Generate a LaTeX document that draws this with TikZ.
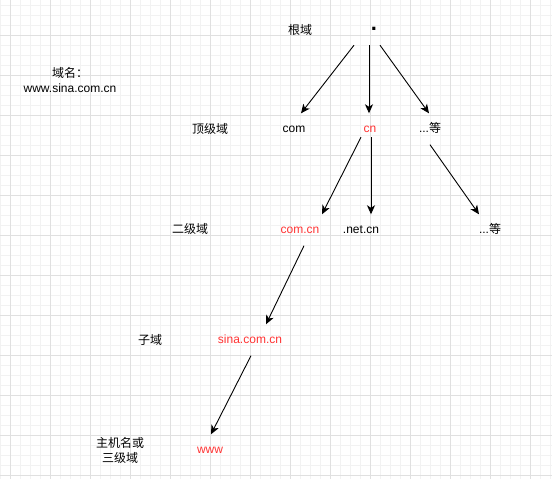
\documentclass[tikz,border=0pt]{standalone}
\usepackage{fontspec}
\setmainfont{Liberation Sans}
\newfontfamily\cjk{Noto Sans CJK SC}
\newcommand{\zh}[1]{{\cjk #1}}
\usetikzlibrary{arrows.meta}

\definecolor{gridmajor}{HTML}{E0E0E0}
\definecolor{gridminor}{HTML}{F2F2F2}
\definecolor{domred}{HTML}{FF3333}

\tikzset{
    lbl/.style = {font=\fontsize{12}{15}\selectfont, align=center, inner sep=0pt},
    dom/.style = {lbl, text height=8.6pt, text depth=2.5pt, minimum height=31pt},
    hot/.style = {dom, text=domred},
    arr/.style = {-{Stealth[length=9pt,width=8pt,inset=2.5pt]}, line width=0.9pt},
}

\begin{document}
\begin{tikzpicture}[x=1pt, y=-1pt]
            % draw background grid
                \useasboundingbox (0,0) rectangle (552,479);
                \foreach \x in {0,10,...,550} \draw[gridminor, line width=0.8pt] (\x,0) -- (\x,479);
                \foreach \y in {5,15,...,475} \draw[gridminor, line width=0.8pt] (0,\y) -- (552,\y);
                \foreach \x in {10,50,...,530} \draw[gridmajor, line width=0.8pt] (\x,0) -- (\x,479);
                \foreach \y in {35,75,...,475} \draw[gridmajor, line width=0.8pt] (0,\y) -- (552,\y);

            % draw level names
                \node[lbl] (name) at (70,80) {\zh{域名：}\\www.sina.com.cn};
                \node[lbl] (rootname) at (300,30) {\zh{根域}};
                \node[lbl] (topname) at (210,129) {\zh{顶级域}};
                \node[lbl] (secondname) at (190,229) {\zh{二级域}};
                \node[lbl] (subname) at (150,340) {\zh{子域}};
                \node[lbl] (hostname) at (120,450) {\zh{主机名或}\\\zh{三级域}};

            % draw domain tree
                \node[lbl, minimum height=32pt] (root) at (374,29) {\fontsize{22}{22}\selectfont\textbf{.}};
                \node[dom] (com) at (294,129) {com};
                \node[hot] (cn) at (370,129) {cn};
                \node[dom] (etca) at (430,129) {...\zh{等}};
                \node[hot] (comcn) at (300,230) {com.cn};
                \node[dom] (netcn) at (361,230) {.net.cn};
                \node[dom] (etcb) at (490,230) {...\zh{等}};
                \node[hot] (sina) at (250,340) {sina.com.cn};
                \node[hot] (www) at (210,450) {www};

            % draw arrows
                \draw[arr] ([xshift=-20pt]root.south) -- ([xshift=7pt]com.north);
                \draw[arr] ([xshift=-5pt]root.south) -- ([xshift=-1pt]cn.north);
                \draw[arr] ([xshift=6pt]root.south) -- ([xshift=-1pt]etca.north);
                \draw[arr] ([xshift=-9pt, yshift=7.5pt]cn.south) -- ([xshift=22pt]comcn.north);
                \draw[arr] ([xshift=1pt, yshift=7.5pt]cn.south) -- ([xshift=10pt]netcn.north);
                \draw[arr] (etca.south) -- ([xshift=-11pt]etcb.north);
                \draw[arr] ([xshift=4pt]comcn.south) -- ([xshift=16pt]sina.north);
                \draw[arr] ([xshift=1pt]sina.south) -- ([xshift=1pt]www.north);
\end{tikzpicture}
\end{document}
